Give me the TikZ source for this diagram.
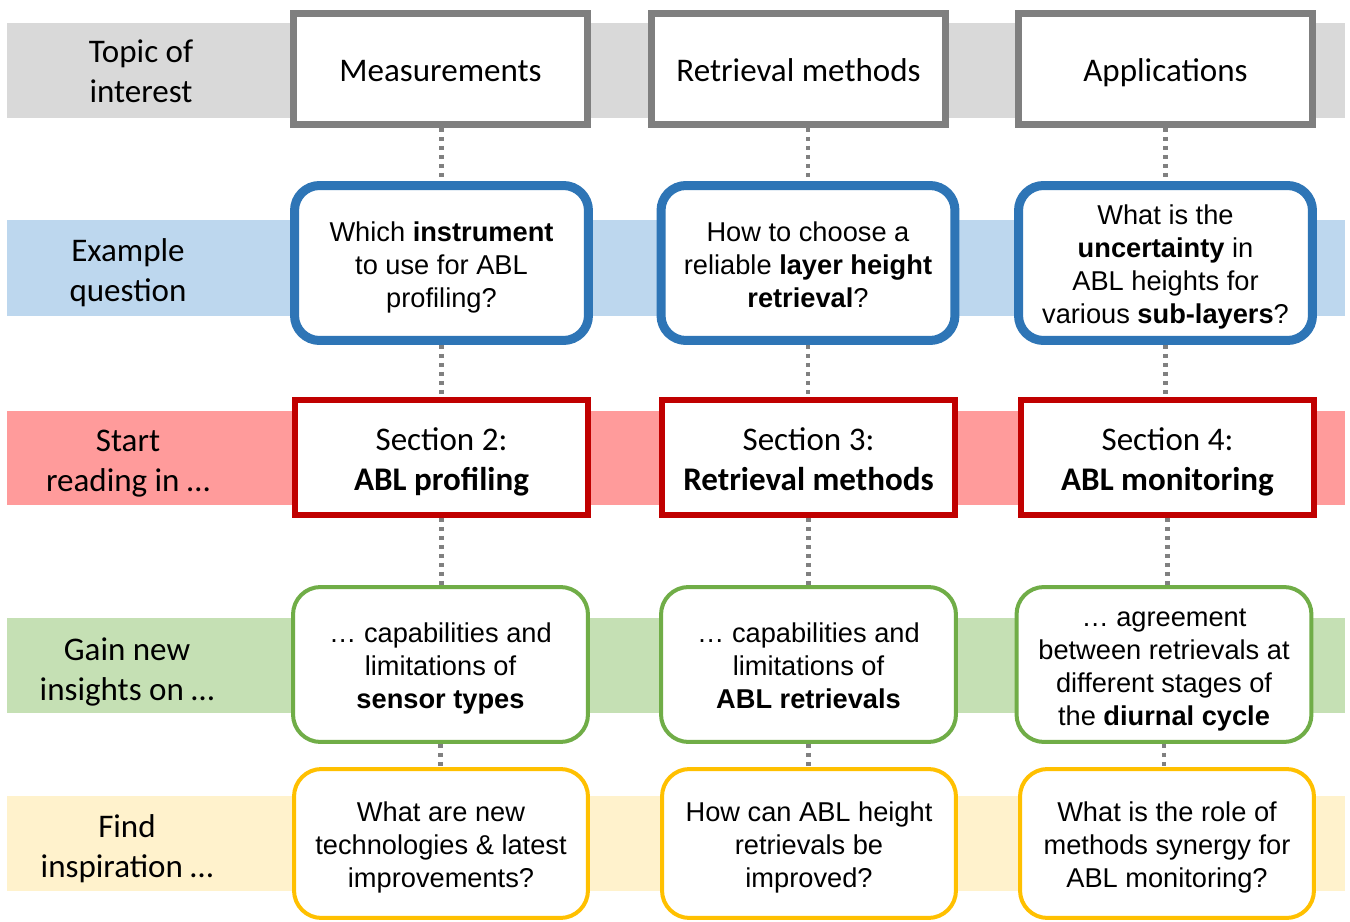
\documentclass[tikz,border=0pt]{standalone}
\usepackage{fontspec}
\setmainfont{Liberation Sans}
\newfontfamily\calfont{Carlito}
\newcommand\ts{\rule{0pt}{\dimexpr0.7\baselineskip+5.5pt\relax}}
\newcommand\bs{\strut}
\definecolor{grayband}{HTML}{D9D9D9}
\definecolor{grayline}{HTML}{7F7F7F}
\definecolor{blueband}{HTML}{BDD7EE}
\definecolor{blueline}{HTML}{2E75B6}
\definecolor{redband}{HTML}{FF9B9B}
\definecolor{redline}{HTML}{C00000}
\definecolor{greenband}{HTML}{C5E0B4}
\definecolor{greenline}{HTML}{70AD47}
\definecolor{yellowband}{HTML}{FFF2CC}
\definecolor{yellowline}{HTML}{FFC000}
\definecolor{dotline}{HTML}{808080}
\begin{document}
\begin{tikzpicture}[x=0.02cm,y=-0.02cm,
  band/.style={fill=#1,draw=none},
  arialtext/.style={font=\fontsize{15.5}{18.8}\selectfont},
  caltext/.style={font=\calfont\fontsize{18.8}{22.7}\selectfont},
  label/.style={caltext,align=center,inner sep=0pt},
  boxbase/.style={fill=white,inner sep=0pt,align=center},
  graybox/.style={boxbase,caltext,draw=grayline,line width=0.14cm,minimum width=5.88cm,minimum height=2.22cm},
  bluebox/.style={boxbase,arialtext,draw=blueline,line width=0.18cm,rounded corners=0.5cm,minimum width=5.88cm,minimum height=3.10cm},
  redbox/.style={boxbase,caltext,draw=redline,line width=0.12cm,minimum width=5.88cm,minimum height=2.30cm},
  greenbox/.style={boxbase,arialtext,draw=greenline,line width=0.08cm,rounded corners=0.55cm,minimum width=5.90cm,minimum height=3.10cm},
  yellowbox/.style={boxbase,arialtext,draw=yellowline,line width=0.08cm,rounded corners=0.55cm,minimum width=5.88cm,minimum height=2.98cm},
  conn/.style={draw=dotline,line width=2.3pt,dash pattern=on 0.09cm off 0.09cm}
]
\useasboundingbox (0,0) rectangle (1350,922);
\fill[white] (0,0) rectangle (1350,922);

% bands
\fill[band=grayband] (7,23) rectangle (1345,118);
\fill[band=blueband] (7,220) rectangle (1345,316);
\fill[band=redband] (7,411) rectangle (1345,505);
\fill[band=greenband] (7,618) rectangle (1345,713);
\fill[band=yellowband] (7,796) rectangle (1345,891);

% row labels
\node[label] (l1) at (141,70) {\ts Topic of\\interest\bs};
\node[label] (l2) at (128,269) {\ts Example\\question\bs};
\node[label] (l3) at (128,459) {\ts Start\\reading in …\bs};
\node[label] (l4) at (127,668) {\ts Gain new\\insights on …\bs};
\node[label] (l5) at (127,845) {\ts Find\\inspiration …\bs};

% boxes
\node[graybox] (g1) at (440.5,69) {\ts Measurements\bs};
\node[graybox] (g2) at (798.5,69) {\ts Retrieval methods\bs};
\node[graybox] (g3) at (1165.5,69) {\ts Applications\bs};

\node[bluebox] (b1) at (441.5,263) {\ts Which \textbf{instrument}\\to use for ABL\\profiling?\bs};
\node[bluebox] (b2) at (808,263) {\ts How to choose a\\reliable \textbf{layer height}\\\textbf{retrieval}?\bs};
\node[bluebox] (b3) at (1165.5,263) {\ts What is the\\\textbf{uncertainty} in\\ABL heights for\\various \textbf{sub-layers}?\bs};

\node[redbox] (r1) at (441.5,457.5) {\ts Section 2:\\\textbf{ABL profiling}\bs};
\node[redbox] (r2) at (808.5,457.5) {\ts Section 3:\\\textbf{Retrieval methods}\bs};
\node[redbox] (r3) at (1167.5,457.5) {\ts Section 4:\\\textbf{ABL monitoring}\bs};

\node[greenbox] (n1) at (440.5,664.5) {\ts … capabilities and\\limitations of\\\textbf{sensor types}\bs};
\node[greenbox] (n2) at (808.5,664.5) {\ts … capabilities and\\limitations of\\\textbf{ABL retrievals}\bs};
\node[greenbox] (n3) at (1164,664.5) {\ts … agreement\\between retrievals at\\different stages of\\the \textbf{diurnal cycle}\bs};

\node[yellowbox] (y1) at (441,843.5) {\ts What are new\\technologies \& latest\\improvements?\bs};
\node[yellowbox] (y2) at (809,843.5) {\ts How can ABL height\\retrievals be\\improved?\bs};
\node[yellowbox] (y3) at (1167,843.5) {\ts What is the role of\\methods synergy for\\ABL monitoring?\bs};

% connectors
\draw[conn] (b1.north |- g1.south) -- (b1.north);
\draw[conn] (b2.north |- g2.south) -- (b2.north);
\draw[conn] (b3.north |- g3.south) -- (b3.north);
\draw[conn] (b1.south) -- (b1.south |- r1.north);
\draw[conn] (b2.south) -- (b2.south |- r2.north);
\draw[conn] (b3.south) -- (b3.south |- r3.north);
\draw[conn] (r1.south) -- (r1.south |- n1.north);
\draw[conn] (r2.south) -- (r2.south |- n2.north);
\draw[conn] (r3.south) -- (r3.south |- n3.north);
\draw[conn] (n1.south) -- (n1.south |- y1.north);
\draw[conn] (n2.south) -- (n2.south |- y2.north);
\draw[conn] (n3.south) -- (n3.south |- y3.north);
\end{tikzpicture}
\end{document}
